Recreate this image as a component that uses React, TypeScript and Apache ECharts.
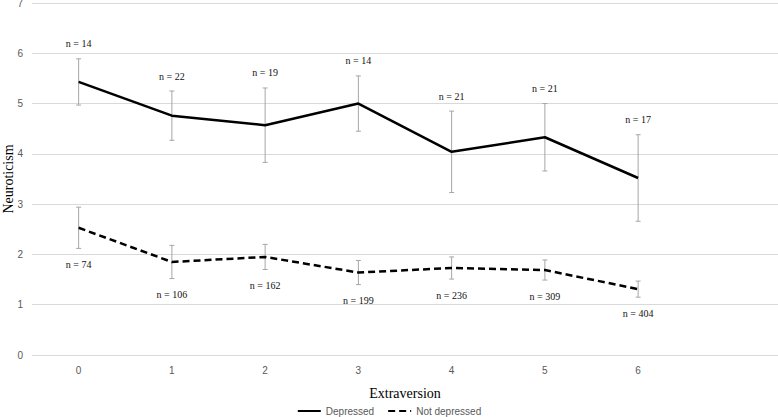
import React, { useEffect, useRef } from "react";
import * as echarts from "echarts";

const categories = ["0", "1", "2", "3", "4", "5", "6", ""];
const depressedMean = [5.43, 4.76, 4.57, 5.0, 4.04, 4.33, 3.52];
const depressedErr = [0.46, 0.49, 0.74, 0.55, 0.81, 0.67, 0.86];
const depressedN = [14, 22, 19, 14, 21, 21, 17];
const notDepMean = [2.53, 1.85, 1.95, 1.64, 1.73, 1.69, 1.31];
const notDepErr = [0.41, 0.33, 0.25, 0.24, 0.22, 0.2, 0.16];
const notDepN = [74, 106, 162, 199, 236, 309, 404];
const yTicks = [0, 1, 2, 3, 4, 5, 6, 7];

const errData = (mean: number[], err: number[], n: number[]) =>
  mean.map((m, i) => [i, m - err[i], m + err[i], n[i]]);

const makeRender = (above: boolean) => (params: any, api: any) => {
  const x = api.value(0);
  const lo = api.coord([x, api.value(1)]);
  const hi = api.coord([x, api.value(2)]);
  const cap = 2.5;
  const style = { stroke: "#a6a6a6", lineWidth: 1 };
  return {
    type: "group",
    children: [
      { type: "line", shape: { x1: lo[0], y1: lo[1], x2: hi[0], y2: hi[1] }, style },
      { type: "line", shape: { x1: hi[0] - cap, y1: hi[1], x2: hi[0] + cap, y2: hi[1] }, style },
      { type: "line", shape: { x1: lo[0] - cap, y1: lo[1], x2: lo[0] + cap, y2: lo[1] }, style },
      {
        type: "text",
        x: hi[0],
        y: above ? hi[1] - 15 : lo[1] + 16,
        style: {
          text: "n = " + api.value(3),
          font: "10px 'Liberation Serif', serif",
          fill: "#111",
          align: "center",
          verticalAlign: "middle",
        },
      },
    ],
  };
};

export default function App() {
  const ref = useRef<HTMLDivElement>(null);
  useEffect(() => {
    document.body.style.margin = "0";
    const chart = echarts.init(ref.current!, null, { renderer: "svg" });
    chart.setOption({
      animation: false,
      backgroundColor: "#fff",
      grid: { left: 32, right: 0, top: 3, bottom: 62, outerBoundsMode: "none", containLabel: false },
      legend: {
        top: 401,
        left: "center",
        itemWidth: 23,
        itemHeight: 8,
        itemGap: 13,
        itemStyle: { opacity: 0 },
        textStyle: { color: "#595959", fontSize: 10, fontFamily: "'Liberation Sans', sans-serif" },
        data: ["Depressed", "Not depressed"],
      },
      xAxis: {
        type: "category",
        data: categories,
        boundaryGap: true,
        name: "Extraversion",
        nameLocation: "middle",
        nameGap: 31,
        nameTextStyle: { color: "#000", fontSize: 14, fontFamily: "'Liberation Serif', serif" },
        axisLine: { show: false },
        axisTick: { show: false },
        axisLabel: { color: "#595959", fontSize: 10, margin: 10, fontFamily: "'Liberation Sans', sans-serif" },
      },
      yAxis: {
        type: "value",
        min: yTicks[0],
        max: yTicks[yTicks.length - 1],
        interval: 1,
        name: "Neuroticism",
        nameLocation: "middle",
        nameGap: 17,
        nameMoveOverlap: false,
        nameTextStyle: { color: "#000", fontSize: 14, fontFamily: "'Liberation Serif', serif" },
        axisLine: { show: false },
        axisTick: { show: false },
        axisLabel: { color: "#595959", fontSize: 10, margin: 9, fontFamily: "'Liberation Sans', sans-serif" },
        splitLine: { lineStyle: { color: "#d9d9d9", width: 1 } },
      },
      series: [
        {
          name: "Depressed",
          type: "line",
          data: depressedMean,
          symbol: "none",
          lineStyle: { color: "#000", width: 2.5 },
          itemStyle: { color: "#000" },
          z: 3,
        },
        {
          name: "Not depressed",
          type: "line",
          data: notDepMean,
          symbol: "none",
          lineStyle: { color: "#000", width: 2.5, type: [7, 4] },
          itemStyle: { color: "#000" },
          z: 3,
        },
        {
          type: "custom",
          renderItem: makeRender(true),
          data: errData(depressedMean, depressedErr, depressedN),
          encode: { x: 0, y: [1, 2] },
          z: 2,
        },
        {
          type: "custom",
          renderItem: makeRender(false),
          data: errData(notDepMean, notDepErr, notDepN),
          encode: { x: 0, y: [1, 2] },
          z: 2,
        },
      ],
    });
    return () => chart.dispose();
  }, []);
  return <div ref={ref} style={{ width: 778, height: 417 }} />;
}
